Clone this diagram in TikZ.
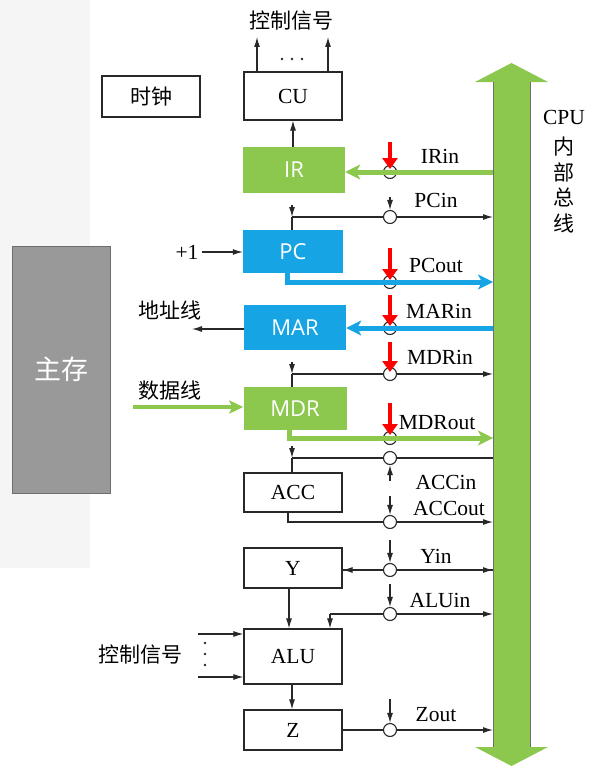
\documentclass[tikz,border=0pt]{standalone}
\usepackage{fontspec}
\setmainfont{Liberation Serif}
\newfontfamily\cjk{Noto Sans CJK SC}
\newfontfamily\boxsans{Open Sans}
\usetikzlibrary{arrows.meta}
\definecolor{busgreen}{RGB}{140,200,78}
\definecolor{regblue}{RGB}{22,164,228}
\definecolor{memgray}{RGB}{153,153,153}
\definecolor{linegray}{RGB}{40,40,40}
\definecolor{sidegray}{RGB}{110,110,110}
\newcommand\latf{\fontsize{21.5}{21.5}\selectfont}
\newcommand\cjkf{\cjk\fontsize{21}{21}\selectfont}
\newcommand\boxf{\boxsans\fontsize{22}{22}\selectfont}
\begin{document}
\begin{tikzpicture}[x=1pt,y=-1pt,
  thinl/.style={draw=linegray, line width=1.1pt},
  tip/.style={-{Latex[length=10pt,width=6pt]}},
  box/.style={draw=linegray, line width=1.2pt, fill=white, inner sep=0pt, font=\latf},
  cbox/.style={inner sep=0pt, text=white, font=\boxf},
  sw/.style={circle, draw=linegray, line width=1.1pt, fill=white, minimum size=13pt, inner sep=0pt},
  ctlred/.style={draw=red, line width=4pt, -{Triangle[length=11pt,width=15pt]}},
  gthick/.style={draw=busgreen, line width=5pt, -{Stealth[length=15pt,width=15pt,inset=4pt]}},
  bthick/.style={draw=regblue, line width=5pt, -{Stealth[length=15pt,width=15pt,inset=4pt]}},
  lab/.style={font=\latf, inner sep=0pt},
  clab/.style={font=\cjkf, inner sep=0pt}]
\fill[gray!8] (0,0) rectangle (90,568);
\useasboundingbox (0,0) rectangle (597,776);

% internal bus
\fill[busgreen] (493,82) -- (475,82) -- (511.5,63) -- (548,82) -- (530,82) -- (530,747) -- (548,747) -- (511.5,766) -- (475,747) -- (493,747) -- cycle;
\draw[sidegray, line width=1pt] (493,82) -- (493,747) (530,82) -- (530,747);
\node[font=\latf, inner sep=0pt] (cpu) at (564,117) {CPU};
\node[clab] (bus1) at (564,147) {内};
\node[clab] (bus2) at (564,172) {部};
\node[clab] (bus3) at (564,197) {总};
\node[clab] (bus4) at (564,223) {线};

\coordinate (b1) at (493,172);
\coordinate (b2) at (493,217);
\coordinate (b3) at (493,282);
\coordinate (b4) at (493,328);
\coordinate (b5) at (493,374);
\coordinate (b6) at (493,438);
\coordinate (b7) at (493,458);
\coordinate (b8) at (493,522);
\coordinate (b9) at (493,570);
\coordinate (b10) at (493,614);
\coordinate (b11) at (493,730);

% boxes
\node[fill=memgray, draw=sidegray, line width=1pt, minimum width=98pt, minimum height=247pt, text=white, font=\cjk\fontsize{27}{27}\selectfont] (mem) at (61,369.5) {主存};
\node[box, minimum width=98pt, minimum height=41pt, font=\cjkf] (clk) at (151,96.5) {时钟};
\node[box, minimum width=98pt, minimum height=48pt] (cu) at (293,96) {CU};
\node[cbox, fill=busgreen, minimum width=102pt, minimum height=46pt] (ir) at (294,170) {IR};
\node[cbox, fill=regblue, minimum width=100pt, minimum height=43pt] (pc) at (293,251.5) {PC};
\node[cbox, fill=regblue, minimum width=102pt, minimum height=45pt] (mar) at (295,327.5) {MAR};
\node[cbox, fill=busgreen, minimum width=103pt, minimum height=43pt] (mdr) at (295,408.5) {MDR};
\node[box, minimum width=98pt, minimum height=39pt] (acc) at (293,492.5) {ACC};
\node[box, minimum width=98pt, minimum height=40pt] (yr) at (293,568) {Y};
\node[box, minimum width=98pt, minimum height=55pt] (alu) at (293,656.5) {ALU};
\node[box, minimum width=98pt, minimum height=40pt] (zr) at (293,730) {Z};

% top control signals
\node[clab] (ctltop) at (291,21) {控制信号};
\coordinate (s1) at (257,37);
\coordinate (s2) at (328,37);
\draw[thinl,tip] (cu.north -| s1) -- (s1);
\draw[thinl,tip] (cu.north -| s2) -- (s2);
\fill[linegray] (282,59) circle (1.3) (292,59) circle (1.3) (302,59) circle (1.3);
\draw[thinl,tip] (ir.north -| cu.south) -- (cu.south);

% left side
\node[lab] (plus1) at (187,252) {+1};
\draw[thinl,tip] (plus1.east) ++(3,0) coordinate (p1s) (p1s) -- (pc.west |- p1s);
\node[clab] (addr) at (170,310) {地址线};
\coordinate (a1) at (192,329);
\draw[thinl,tip] (mar.west |- a1) -- (a1);
\node[clab] (data) at (170,391) {数据线};
\coordinate (d1) at (133,407);
\draw[draw=busgreen, line width=4pt, -{Stealth[length=14pt,width=13pt,inset=3pt]}] (d1) -- (mdr.west |- d1);
\node[clab] (ctlalu) at (140,655) {控制信号};
\coordinate (e1) at (198,634);
\coordinate (e2) at (198,677);
\draw[thinl,tip] (e1) -- (alu.west |- e1);
\draw[thinl,tip] (e2) -- (alu.west |- e2);
\fill[linegray] (205,643) circle (1.4) (205,654) circle (1.4) (205,665) circle (1.4);

% junctions on the left of switches
\coordinate (j2) at (292,217);
\coordinate (j2s) at (292,205);
\coordinate (j3) at (287,282);
\coordinate (j5) at (292,374);
\coordinate (j5s) at (292,362);
\coordinate (j6) at (289,438);
\coordinate (j7) at (292,458);
\coordinate (j7s) at (292,446);
\coordinate (j8) at (288,522);
\coordinate (j10) at (330,614);
\coordinate (ky) at (289,600);
\coordinate (kz) at (292,700);

% thin lines
\draw[thinl,tip] (j2) -- (b2);
\draw[thinl,tip] (j2s) -- (j2);
\draw[thinl] (j2) -- (pc.north -| j2);
\draw[thinl,tip] (pc.south -| j3) -- (j3) -- (b3);
\draw[thinl,tip] (j5) -- (b5);
\draw[thinl,tip] (j5s) -- (j5);
\draw[thinl] (j5) -- (mdr.north -| j5);
\draw[thinl,tip] (mdr.south -| j6) -- (j6) -- (b6);
\draw[thinl] (b7) -- (j7);
\draw[thinl,tip] (j7s) -- (j7);
\draw[thinl] (j7) -- (acc.north -| j7);
\draw[thinl,tip] (acc.south -| j8) -- (j8) -- (b8);
\draw[thinl,tip] (yr.east |- b9) -- (b9);
\draw[thinl,tip] (b9) -- (yr.east |- b9);
\draw[thinl,tip] (j10) -- (b10);
\draw[thinl,tip] (j10) -- (alu.north -| j10);
\draw[thinl,tip] (yr.south -| ky) -- (alu.north -| ky);
\draw[thinl,tip] (alu.south -| kz) -- (zr.north -| kz);
\draw[thinl,tip] (zr.east |- b11) -- (b11);

% switches
\node[sw] (c1) at (390,172) {};
\node[sw] (c2) at (390,217) {};
\node[sw] (c3) at (390,282) {};
\node[sw] (c4) at (390,328) {};
\node[sw] (c5) at (390,374) {};
\node[sw] (c6) at (390,438) {};
\node[sw] (c7) at (390,458) {};
\node[sw] (c8) at (390,522) {};
\node[sw] (c9) at (390,570) {};
\node[sw] (c10) at (390,614) {};
\node[sw] (c11) at (390,730) {};

% black control arrows
\coordinate (k2) at (390,197);
\coordinate (k7) at (390,481);
\coordinate (k8) at (390,496);
\coordinate (k9) at (390,540);
\coordinate (k10) at (390,584);
\coordinate (k11) at (390,699);
\draw[thinl,tip] (k2) -- (c2);
\draw[thinl,tip] (k7) -- (c7);
\draw[thinl,tip] (k8) -- (c8);
\draw[thinl,tip] (k9) -- (c9);
\draw[thinl,tip] (k10) -- (c10);
\draw[thinl,tip] (k11) -- (c11);

% highlighted data paths
\draw[gthick] (b1) -- (ir.east |- b1);
\draw[bthick] (pc.south -| j3) -- (j3) -- (b3);
\draw[bthick] (b4) -- (mar.east |- b4);
\draw[gthick] (mdr.south -| j6) -- (j6) -- (b6);

% red control arrows
\coordinate (r1a) at (390,142); \coordinate (r1b) at (390,169);
\coordinate (r3a) at (390,248); \coordinate (r3b) at (390,280);
\coordinate (r4a) at (390,295); \coordinate (r4b) at (390,326);
\coordinate (r5a) at (390,342); \coordinate (r5b) at (390,372);
\coordinate (r6a) at (390,403); \coordinate (r6b) at (390,435);
\draw[ctlred] (r1a) -- (r1b);
\draw[ctlred] (r3a) -- (r3b);
\draw[ctlred] (r4a) -- (r4b);
\draw[ctlred] (r5a) -- (r5b);
\draw[ctlred] (r6a) -- (r6b);

% signal labels
\node[lab] (l1) at (440,156) {IRin};
\node[lab] (l2) at (436,200) {PCin};
\node[lab] (l3) at (436,265) {PCout};
\node[lab] (l4) at (439,311) {MARin};
\node[lab] (l5) at (440,357) {MDRin};
\node[lab] (l6) at (437,423) {MDRout};
\node[lab] (l7) at (446,482) {ACCin};
\node[lab] (l8) at (449,508) {ACCout};
\node[lab] (l9) at (436,556) {Yin};
\node[lab] (l10) at (440,600) {ALUin};
\node[lab] (l11) at (436,715) {Zout};
\end{tikzpicture}
\end{document}
